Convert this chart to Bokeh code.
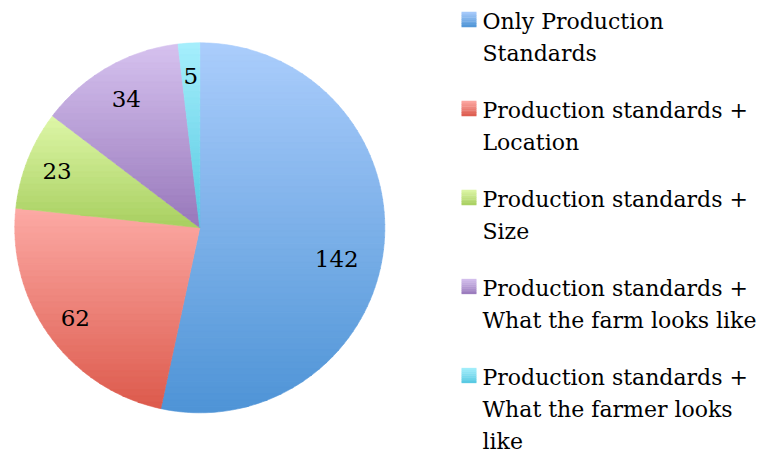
import math
from bokeh.plotting import figure
from bokeh.models import Range1d, ColumnDataSource
from bokeh.core.properties import value
from bokeh.embed import file_html
from bokeh.resources import INLINE

# ---- data ----
categories = [
    "Only Production Standards",
    "Production standards + Location",
    "Production standards + Size",
    "Production standards + What the farm looks like",
    "Production standards + What the farmer looks like",
]
counts = [142, 62, 23, 34, 5]
legend_lines = [
    ["Only Production", "Standards"],
    ["Production standards +", "Location"],
    ["Production standards +", "Size"],
    ["Production standards +", "What the farm looks like"],
    ["Production standards +", "What the farmer looks", "like"],
]
colors_top = ["#abcdfc", "#fdaaa5", "#def7a8", "#d6c2ef", "#a6effc"]
colors_bottom = ["#4e94d6", "#dc5a4c", "#a8cf60", "#9878bb", "#55c8e1"]

# label placement (style): fraction along the slice's angle, fraction of radius
label_angle_frac = [0.536, 0.5, 0.5, 0.5, 0.5]
label_radius_frac = [0.76, 0.83, 0.83, 0.80, 0.82]

# ---- layout ----
W, H = 763, 454
CX, CY, R = 199.3, 454 - 227.3, 185.0
FONT = "DejaVu Serif"


def hex2rgb(h):
    h = h.lstrip("#")
    return [int(h[i:i + 2], 16) for i in (0, 2, 4)]


def mix(c1, c2, t):
    a, b = hex2rgb(c1), hex2rgb(c2)
    return "#%02x%02x%02x" % tuple(int(round(a[i] + (b[i] - a[i]) * t)) for i in range(3))


def clip(poly, ylo, yhi):
    def clip_edge(pts, inside, inter):
        out = []
        n = len(pts)
        for i in range(n):
            cur, prev = pts[i], pts[i - 1]
            if inside(cur):
                if not inside(prev):
                    out.append(inter(prev, cur))
                out.append(cur)
            elif inside(prev):
                out.append(inter(prev, cur))
        return out

    def make_inter(yv):
        def f(p, q):
            t = (yv - p[1]) / (q[1] - p[1])
            return (p[0] + t * (q[0] - p[0]), yv)
        return f

    pts = clip_edge(poly, lambda p: p[1] >= ylo, make_inter(ylo))
    if not pts:
        return []
    pts = clip_edge(pts, lambda p: p[1] <= yhi, make_inter(yhi))
    return pts


p = figure(width=W, height=H, x_range=Range1d(0, W), y_range=Range1d(0, H),
           output_backend="svg", toolbar_location=None, min_border=0)
p.axis.visible = False
p.grid.visible = False
p.outline_line_color = None
p.background_fill_color = "white"

total = float(sum(counts))
xs_all, ys_all, cols_all = [], [], []
lab_x, lab_y, lab_t = [], [], []
cum = 0.0
NB = 60
for i, c in enumerate(counts):
    a0 = cum / total * 2 * math.pi
    cum += c
    a1 = cum / total * 2 * math.pi
    n = max(4, int((a1 - a0) / (2 * math.pi) * 360))
    poly = [(CX, CY)]
    for k in range(n + 1):
        t = a0 + (a1 - a0) * k / n
        poly.append((CX + R * math.sin(t), CY + R * math.cos(t)))
    ymin = min(pt[1] for pt in poly)
    ymax = max(pt[1] for pt in poly)
    nb = max(6, int((ymax - ymin) / (2 * R) * NB))
    step = (ymax - ymin) / nb
    for b in range(nb):
        yhi = ymax - b * step
        ylo = yhi - step
        part = clip(poly, ylo - 0.3, yhi + 0.3)
        if len(part) < 3:
            continue
        xs_all.append([pt[0] for pt in part])
        ys_all.append([pt[1] for pt in part])
        cols_all.append(mix(colors_top[i], colors_bottom[i], (b + 0.5) / nb))
    ang = a0 + (a1 - a0) * label_angle_frac[i]
    rr = label_radius_frac[i] * R
    lab_x.append(CX + rr * math.sin(ang))
    lab_y.append(CY + rr * math.cos(ang))
    lab_t.append(str(c))

p.patches(xs="xs", ys="ys", fill_color="c", line_color="c", line_width=0.6,
          source=ColumnDataSource(dict(xs=xs_all, ys=ys_all, c=cols_all)))

p.text(x=lab_x, y=lab_y, text=lab_t, text_align="center", text_baseline="middle",
       text_font=value(FONT), text_font_size="23px", text_color="black")

# ---- legend ----
LX_TEXT = 482
LX_SQ = 468.5
SQ = 15
first_sq_center = H - 19
entry_gap = 89
line_gap = 32
tx, ty, tt = [], [], []
sx, sy, sc, sh = [], [], [], []
for i, lines in enumerate(legend_lines):
    sqc = first_sq_center - i * entry_gap
    for j, line in enumerate(lines):
        tx.append(LX_TEXT)
        ty.append(sqc - 2 - j * line_gap)
        tt.append(line)
    top = sqc + SQ / 2
    nstr = 8
    for k in range(nstr):
        yy = top - (k + 0.5) * SQ / nstr
        sx.append(LX_SQ)
        sy.append(yy)
        sc.append(mix(colors_top[i], colors_bottom[i], (k + 0.5) / nstr))
        sh.append(SQ / nstr + 0.3)

p.rect(x="x", y="y", width=SQ, height="h", fill_color="c", line_color=None,
       source=ColumnDataSource(dict(x=sx, y=sy, c=sc, h=sh)))
p.text(x=tx, y=ty, text=tt, text_align="left", text_baseline="middle",
       text_font=value(FONT), text_font_size="22px", text_color="black")

open("out.html", "w").write(file_html(p, INLINE))
